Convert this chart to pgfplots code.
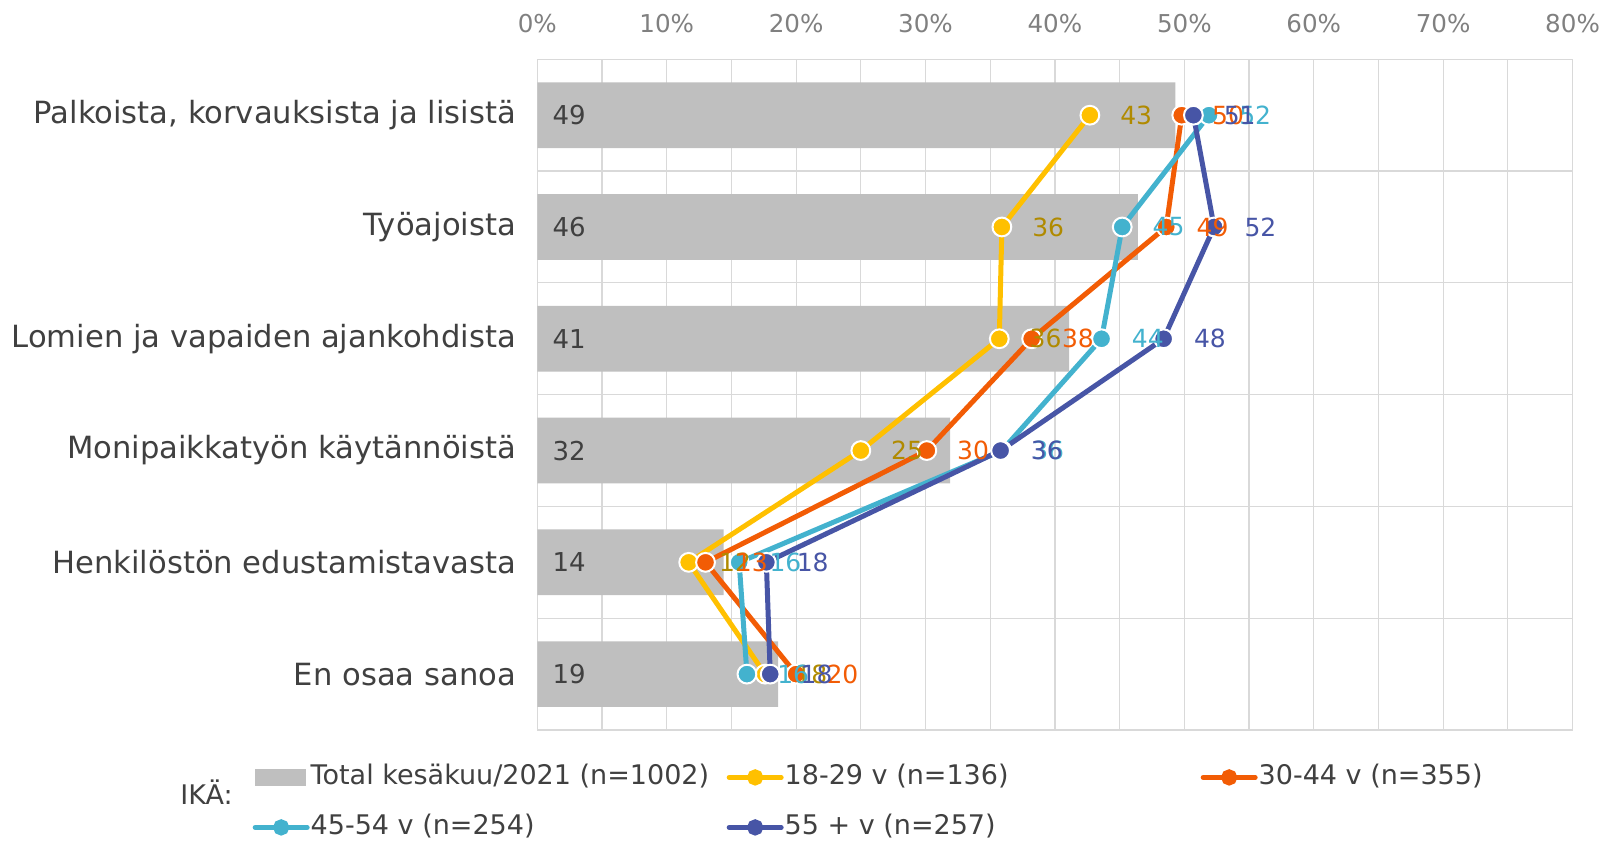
\documentclass[border=0pt]{standalone}
\usepackage{fontspec}
\setmainfont{DejaVu Sans}
\usepackage{pgfplots}
\usepackage{pgfplotstable}
\pgfplotsset{compat=1.18}

\definecolor{barcol}{HTML}{BFBFBF}
\definecolor{gridcol}{HTML}{D9D9D9}
\definecolor{tickcol}{HTML}{808080}
\definecolor{textcol}{HTML}{404040}
\definecolor{yel}{HTML}{FFC000}
\definecolor{yellab}{HTML}{B08A00}
\definecolor{ora}{HTML}{F25C05}
\definecolor{cya}{HTML}{43B2CE}
\definecolor{blu}{HTML}{4755A6}

% values in %, categories top to bottom
\pgfplotstableread{
cat total a b c d
0 49.3 42.7 49.8 51.9 50.7
1 46.4 35.9 48.6 45.2 52.3
2 41.1 35.7 38.2 43.6 48.4
3 31.9 25.0 30.1 35.9 35.8
4 14.4 11.7 13.0 15.6 17.7
5 18.6 17.6 20.0 16.2 18.0
}\datatable

\pgfplotsset{
  /pgf/number format/assume math mode=true,
  ser/.style={color=#1, line width=2.5pt, mark=*, mark size=4.7pt,
    mark options={fill=#1, draw=white, line width=1pt, solid},
    legend image code/.code={\draw[#1, line width=2.5pt, line cap=round] (0pt,0pt) -- (26pt,0pt);
      \fill[#1] (13pt,0pt) circle (2.8pt);}},
  % data labels drawn after all lines, so they sit on top as in the original
  lab/.style={draw=none, mark=none, forget plot, point meta=x,
    nodes near coords={\pgfmathprintnumber[fixed,precision=0]{\pgfplotspointmeta}},
    nodes near coords align=horizontal,
    every node near coord/.append style={anchor=west, inner sep=0pt, xshift=15pt,
      text=#1, font=\fontsize{12.5}{14}\selectfont}},
}

\begin{document}
\begin{tikzpicture}
\path[use as bounding box] (-268.65pt,-55.5pt) rectangle (533.85pt,365pt);
\begin{axis}[
    name=ax, at={(0,0)}, anchor=south west,
    scale only axis, width=517.65pt, height=335.35pt,
    xmin=0, xmax=80, ymin=-0.5, ymax=5.5,
    y dir=reverse,
    xtick={0,10,...,80},
    xticklabels={0\%,10\%,20\%,30\%,40\%,50\%,60\%,70\%,80\%},
    xticklabel pos=upper,
    minor x tick num=1,
    xmajorgrids, xminorgrids,
    ytick={0,...,5},
    yticklabels={{Palkoista, korvauksista ja lisistä}, Työajoista,
      Lomien ja vapaiden ajankohdista, Monipaikkatyön käytännöistä,
      Henkilöstön edustamistavasta, En osaa sanoa},
    minor ytick={0.5,1.5,2.5,3.5,4.5},
    yminorgrids,
    major tick length=0pt, minor tick length=0pt,
    tick style={draw=none},
    grid style={gridcol, line width=0.6pt},
    minor grid style={gridcol, line width=0.6pt},
    axis line style={gridcol, line width=0.6pt},
    xticklabel style={anchor=base, inner sep=0pt, yshift=13.3pt, text=tickcol,
      font=\fontsize{12.3}{14}\selectfont},
    yticklabel style={anchor=east, inner sep=0pt, xshift=-10.5pt, text=textcol,
      font=\fontsize{15.3}{18}\selectfont},
    legend columns=3,
    legend cell align=left,
    legend style={draw=none, fill=none, at={(0,0)}, anchor=north west,
      xshift=-142.5pt, yshift=-16.5pt, inner sep=0pt,
      font=\fontsize{13.5}{16}\selectfont, text=textcol,
      nodes={inner sep=0.5pt, text height=10pt, text depth=3pt},
      row sep=11pt,
      /tikz/every even column/.append style={column sep=0pt}},
]
\addplot[xbar, bar width=0.588, fill=barcol, draw=none,
  legend image code/.code={\fill[barcol] (0pt,-4.35pt) rectangle (25.6pt,4.35pt);}]
  table[x=total, y=cat] {\datatable};
\addlegendentry{\makebox[207.5pt][l]{Total kesäkuu/2021 (n=1002)}}

\addplot[draw=none, mark=none, forget plot, point meta=explicit,
  nodes near coords={\pgfmathprintnumber[fixed,precision=0]{\pgfplotspointmeta}},
  nodes near coords align=horizontal,
  every node near coord/.append style={anchor=west, inner sep=0pt, xshift=7.5pt,
    text=textcol, font=\fontsize{13}{15}\selectfont}]
  table[x expr=0, y=cat, meta=total] {\datatable};

\addplot[ser=yel] table[x=a, y=cat] {\datatable};
\addlegendentry{\makebox[207.5pt][l]{18-29 v (n=136)}}
\addplot[ser=ora] table[x=b, y=cat] {\datatable};
\addlegendentry{30-44 v (n=355)}
\addplot[ser=cya] table[x=c, y=cat] {\datatable};
\addlegendentry{45-54 v (n=254)}
\addplot[ser=blu] table[x=d, y=cat] {\datatable};
\addlegendentry{55 + v (n=257)}

\addplot[lab=yellab] table[x=a, y=cat] {\datatable};
\addplot[lab=ora] table[x=b, y=cat] {\datatable};
\addplot[lab=cya] table[x=c, y=cat] {\datatable};
\addplot[lab=blu] table[x=d, y=cat] {\datatable};
\end{axis}
\node[anchor=base west, inner sep=0pt, text=textcol, font=\fontsize{13.5}{16}\selectfont]
  at ([xshift=-178.65pt, yshift=-37pt]ax.south west) {IKÄ:};
\end{tikzpicture}
\end{document}
